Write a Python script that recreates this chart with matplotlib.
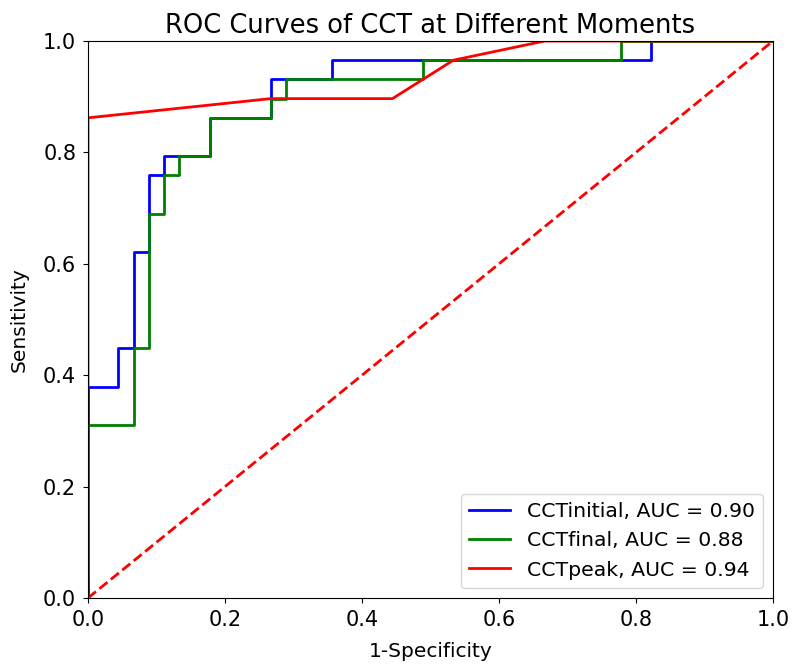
import matplotlib
matplotlib.use("Agg")
import matplotlib.pyplot as plt

# ROC points (45 negatives, 29 positives)
fpr_initial = [0, 0, 2/45, 2/45, 3/45, 3/45, 4/45, 4/45, 5/45, 5/45, 8/45, 8/45,
               12/45, 12/45, 16/45, 16/45, 37/45, 37/45, 1]
tpr_initial = [0, 11/29, 11/29, 13/29, 13/29, 18/29, 18/29, 22/29, 22/29, 23/29, 23/29, 25/29,
               25/29, 27/29, 27/29, 28/29, 28/29, 1, 1]

fpr_final = [0, 0, 3/45, 3/45, 4/45, 4/45, 5/45, 5/45, 6/45, 6/45, 8/45, 8/45,
             12/45, 12/45, 13/45, 13/45, 22/45, 22/45, 35/45, 35/45, 1]
tpr_final = [1/29, 9/29, 9/29, 13/29, 13/29, 20/29, 20/29, 22/29, 22/29, 23/29, 23/29, 25/29,
             25/29, 26/29, 26/29, 27/29, 27/29, 28/29, 28/29, 1, 1]

fpr_peak = [0, 0, 12/45, 20/45, 24/45, 30/45, 1]
tpr_peak = [4/29, 25/29, 26/29, 26/29, 28/29, 1, 1]

auc_initial = 0.90
auc_final = 0.88
auc_peak = 0.94

fig = plt.figure(figsize=(7.93, 6.66), dpi=100)
ax = fig.add_axes([88/793, 1 - 598/666, 685/793, 557/666])

ax.plot(fpr_initial, tpr_initial, color='blue', lw=2, label='CCTinitial, AUC = %.2f' % auc_initial)
ax.plot(fpr_final, tpr_final, color='green', lw=2, label='CCTfinal, AUC = %.2f' % auc_final)
ax.plot(fpr_peak, tpr_peak, color='red', lw=2, label='CCTpeak, AUC = %.2f' % auc_peak)
ax.plot([0, 1], [0, 1], 'r--', lw=2)

ax.set_xlim(0, 1)
ax.set_ylim(0, 1)
ax.set_title("ROC Curves of CCT at Different Moments", fontsize=18.5)
ax.set_xlabel("1-Specificity", fontsize=14.5, labelpad=9)
ax.set_ylabel("Sensitivity", fontsize=14.5, labelpad=10)
ax.tick_params(labelsize=15, pad=5)
ax.legend(loc='lower right', fontsize=14.7)

fig.savefig("out.png")
